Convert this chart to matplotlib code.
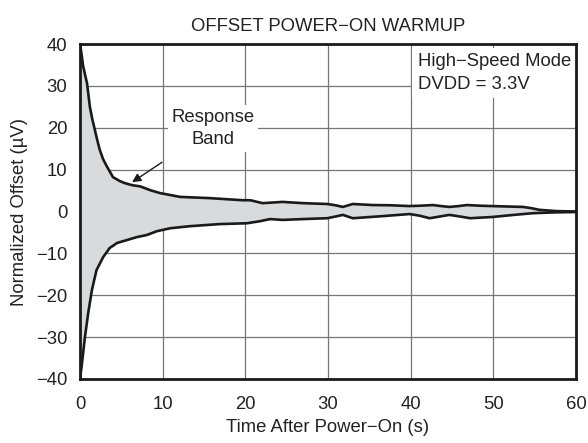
import matplotlib.pyplot as plt
import numpy as np

plt.rcParams["font.family"] = ["Liberation Sans", "DejaVu Sans"]
plt.rcParams["axes.unicode_minus"] = True

# Upper edge of the response band (time s, offset uV)
upper_t = [0, 0.2, 0.36, 0.6, 0.85, 1.2, 1.5, 1.8, 2.1, 2.4, 2.8, 3.3, 4.0, 4.8,
           5.4, 6.3, 7.3, 8.5, 9.7, 12.1, 15.7, 19.7, 20.6, 22.1, 24.5, 27.0,
           29.9, 30.9, 31.8, 33.0, 35.4, 37.5, 39.9, 41.3, 42.7, 43.7, 44.7,
           45.8, 46.8, 48.3, 49.9, 53.6, 54.6, 55.6, 57.7, 60.0]
upper_v = [40, 37.5, 35, 32.8, 30.7, 25, 22, 19.5, 17, 14.7, 12.5, 10.6, 8.2, 7.3,
           6.8, 6.3, 6.0, 5.1, 4.4, 3.5, 3.2, 2.7, 2.7, 2.0, 2.3, 2.0,
           1.8, 1.5, 1.1, 1.8, 1.55, 1.5, 1.3, 1.4, 1.55, 1.3, 1.1,
           1.3, 1.55, 1.4, 1.3, 1.1, 0.8, 0.4, 0.1, 0.0]

# Lower edge of the response band
lower_t = [0, 0.2, 0.6, 1.0, 1.45, 2.0, 2.8, 3.6, 4.5, 5.7, 6.9, 8.1, 9.3, 10.9,
           13.3, 16.9, 20.2, 21.8, 23.0, 24.5, 27.0, 29.9, 30.9, 31.8, 33.0,
           36.6, 39.9, 41.1, 42.3, 43.5, 44.7, 46.0, 47.2, 49.9, 52.5, 54.8,
           57.5, 60.0]
lower_v = [-40, -37, -30, -24.2, -18.7, -14, -10.9, -8.7, -7.5, -6.8, -6.1, -5.6,
           -4.7, -4.0, -3.5, -3.0, -2.8, -2.3, -1.8, -2.0, -1.8, -1.6, -1.2, -0.8,
           -1.6, -1.1, -0.6, -1.0, -1.6, -1.2, -0.8, -1.2, -1.6, -1.3, -0.8, -0.4,
           -0.2, -0.1]

x_ticks = [0, 10, 20, 30, 40, 50, 60]
y_ticks = [-40, -30, -20, -10, 0, 10, 20, 30, 40]

fs = 13.3
txt = "#222222"

fig = plt.figure(figsize=(5.88, 4.43), dpi=100)
ax = fig.add_axes([0.136, 0.1445, 0.8435, 0.756])

grid_t = np.linspace(0, 60, 1201)
up = np.interp(grid_t, upper_t, upper_v)
lo = np.interp(grid_t, lower_t, lower_v)
ax.fill_between(grid_t, lo, up, color="#d9dadc", lw=0, zorder=1)
ax.plot(upper_t, upper_v, color="#1a1a1a", lw=1.9, zorder=3)
ax.plot(lower_t, lower_v, color="#1a1a1a", lw=1.9, zorder=3)

ax.set_xlim(0, 60)
ax.set_ylim(-40, 40)
ax.set_xticks(x_ticks)
ax.set_yticks(y_ticks)
ax.grid(True, color="#777777", lw=0.9)
ax.set_axisbelow(True)
ax.tick_params(axis="x", length=0, labelsize=fs, pad=12, colors=txt)
ax.tick_params(axis="y", length=0, labelsize=fs, pad=9, colors=txt)
for s in ax.spines.values():
    s.set_linewidth(2.0)
    s.set_color("#1a1a1a")
    s.set_zorder(5)

ax.set_xlabel("Time After Power\u2212On (s)", fontsize=fs, color=txt, labelpad=4.5)
ax.set_ylabel("Normalized Offset (\u00b5V)", fontsize=fs, color=txt, labelpad=6)
ax.set_title("OFFSET POWER\u2212ON WARMUP", fontsize=fs, color=txt, pad=9.5)

ax.annotate("Response\nBand", xy=(6.3, 7.0), xytext=(16.1, 19.9),
            ha="center", va="center", fontsize=fs, color=txt, linespacing=1.4,
            bbox=dict(boxstyle="square,pad=0.2", fc="white", ec="none"),
            arrowprops=dict(arrowstyle="-|>", color="#1a1a1a", lw=1,
                            shrinkA=14, shrinkB=0, mutation_scale=13),
            zorder=4)

# white box sits against the 40 s grid line, which stays visible
ax.text(40.85, 37.9, "High\u2212Speed Mode\nDVDD = 3.3V", ha="left", va="top",
        fontsize=fs, color=txt, linespacing=1.45,
        bbox=dict(boxstyle="square,pad=0.28", fc="white", ec="none"), zorder=4)

fig.savefig("out.png", dpi=100)
